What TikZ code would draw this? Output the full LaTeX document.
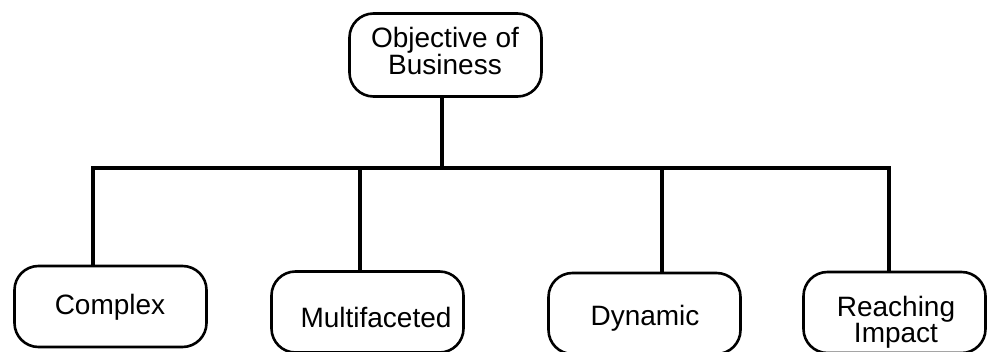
\documentclass[tikz,border=0pt]{standalone}
\usepackage{fontspec}
\setmainfont{Liberation Sans}
\usetikzlibrary{positioning}

\tikzset{
  box/.style={draw,line width=2.6pt,rounded corners=24pt,minimum width=192pt,minimum height=81pt,inner sep=0pt},
  lbl/.style={anchor=base,align=center,inner sep=0pt,font=\fontsize{28}{26}\selectfont},
  link/.style={line width=3.6pt}
}

\begin{document}
\begin{tikzpicture}[x=1pt,y=-1pt]
\clip (0,0) rectangle (987,352);
\fill[white] (0,0) rectangle (987,352);

% boxes
\node[box,minimum height=83pt] (obj) at (445.5,55) {};
\node[box] (cmplx) at (110.5,306.5) {};
\node[box] (multi) at (367.5,312) {};
\node[box] (dyn) at (644.5,313.5) {};
\node[box,minimum width=182pt] (reach) at (894.5,312.5) {};

% texts
\node[lbl] (tobj) at (445,75) {Objective of\\Business};
\node[lbl] (tcmplx) at (110,315) {Complex};
\node[lbl] (tmulti) at (376,327) {Multifaceted};
\node[lbl] (tdyn) at (645,326) {Dynamic};
\node[lbl] (treach) at (896,342) {Reaching\\Impact};

% bar
\coordinate (b0) at (442,168);
\coordinate (b1) at (93,168);
\coordinate (b2) at (360,168);
\coordinate (b3) at (662,168);
\coordinate (b4) at (889,168);

\draw[link] (b0 |- obj.south) -- (b0);
\draw[link,line cap=rect] (b1) -- (b4);
\draw[link] (b1) -- (b1 |- cmplx.north);
\draw[link] (b2) -- (b2 |- multi.north);
\draw[link] (b3) -- (b3 |- dyn.north);
\draw[link] (b4) -- (b4 |- reach.north);

\end{tikzpicture}
\end{document}
